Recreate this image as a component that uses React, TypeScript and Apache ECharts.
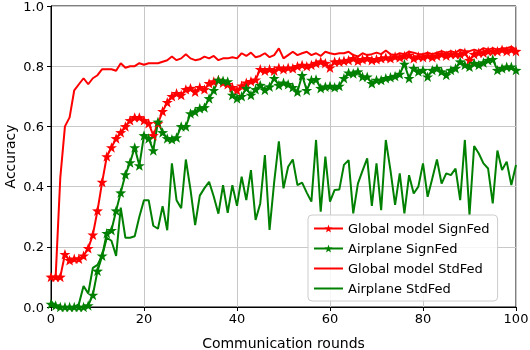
import React, { useEffect, useRef } from "react";
import * as echarts from "echarts";

const xTicks = [0, 20, 40, 60, 80, 100];
const yTicks = [0, 0.2, 0.4, 0.6, 0.8, 1.0];

const globalSignFed = [
  0.10, 0.10, 0.10, 0.175, 0.155, 0.16, 0.16, 0.17, 0.195, 0.24,
  0.32, 0.415, 0.50, 0.53, 0.56, 0.58, 0.60, 0.62, 0.63, 0.63,
  0.62, 0.61, 0.57, 0.61, 0.65, 0.68, 0.70, 0.71, 0.704, 0.723,
  0.727, 0.715, 0.73, 0.723, 0.743, 0.749, 0.754, 0.745, 0.74, 0.73,
  0.72, 0.735, 0.745, 0.75, 0.755, 0.79, 0.785, 0.79, 0.785, 0.795,
  0.79, 0.795, 0.793, 0.80, 0.804, 0.80, 0.804, 0.81, 0.815, 0.81,
  0.795, 0.815, 0.815, 0.818, 0.82, 0.826, 0.818, 0.823, 0.826, 0.82,
  0.823, 0.826, 0.829, 0.826, 0.832, 0.829, 0.834, 0.837, 0.826, 0.832,
  0.83, 0.835, 0.83, 0.835, 0.84, 0.835, 0.84, 0.84, 0.84, 0.845,
  0.82, 0.84, 0.845, 0.845, 0.85, 0.85, 0.85, 0.855, 0.85, 0.855,
  0.85,
];

const airplaneSignFed = [
  0.01, 0.005, 0.0, 0.0, 0.0, 0.0, 0.0, 0.0, 0.005, 0.04,
  0.12, 0.17, 0.245, 0.255, 0.32, 0.38, 0.44, 0.48, 0.53, 0.47,
  0.57, 0.56, 0.52, 0.615, 0.58, 0.56, 0.557, 0.563, 0.60, 0.60,
  0.643, 0.649, 0.66, 0.663, 0.693, 0.72, 0.754, 0.752, 0.749, 0.704,
  0.693, 0.70, 0.727, 0.704, 0.723, 0.737, 0.721, 0.732, 0.76, 0.737,
  0.745, 0.74, 0.73, 0.715, 0.77, 0.72, 0.754, 0.756, 0.727, 0.732,
  0.734, 0.73, 0.734, 0.76, 0.778, 0.776, 0.782, 0.765, 0.765, 0.743,
  0.754, 0.754, 0.76, 0.763, 0.767, 0.774, 0.807, 0.76, 0.793, 0.782,
  0.787, 0.765, 0.787, 0.793, 0.782, 0.771, 0.787, 0.793, 0.815, 0.804,
  0.798, 0.81, 0.804, 0.812, 0.82, 0.823, 0.787, 0.793, 0.798, 0.798,
  0.787,
];

const globalStdFed = [
  0.10, 0.10, 0.43, 0.60, 0.63, 0.72, 0.74, 0.76, 0.74, 0.76,
  0.77, 0.79, 0.79, 0.79, 0.785, 0.81, 0.795, 0.80, 0.80, 0.81,
  0.805, 0.81, 0.81, 0.81, 0.815, 0.82, 0.832, 0.82, 0.826, 0.84,
  0.826, 0.82, 0.823, 0.832, 0.826, 0.834, 0.82, 0.826, 0.826, 0.83,
  0.826, 0.843, 0.834, 0.845, 0.83, 0.834, 0.843, 0.83, 0.837, 0.859,
  0.826, 0.837, 0.848, 0.837, 0.843, 0.848, 0.837, 0.843, 0.834, 0.848,
  0.843, 0.84, 0.843, 0.843, 0.848, 0.837, 0.832, 0.843, 0.837, 0.84,
  0.845, 0.84, 0.852, 0.84, 0.837, 0.843, 0.84, 0.848, 0.845, 0.84,
  0.84, 0.845, 0.84, 0.845, 0.85, 0.845, 0.85, 0.845, 0.855, 0.85,
  0.85, 0.855, 0.85, 0.86, 0.855, 0.86, 0.855, 0.86, 0.86, 0.865,
  0.855,
];

const airplaneStdFed = [
  0.02, 0.0, 0.0, 0.0, 0.0, 0.0, 0.01, 0.07, 0.045, 0.13,
  0.14, 0.17, 0.23, 0.22, 0.17, 0.33, 0.23, 0.23, 0.235, 0.30,
  0.355, 0.355, 0.27, 0.26, 0.335, 0.255, 0.477, 0.355, 0.328, 0.49,
  0.39, 0.272, 0.37, 0.395, 0.416, 0.367, 0.31, 0.405, 0.313, 0.405,
  0.336, 0.433, 0.355, 0.455, 0.289, 0.344, 0.505, 0.256, 0.416, 0.55,
  0.394, 0.466, 0.49, 0.405, 0.413, 0.38, 0.35, 0.555, 0.317, 0.50,
  0.35, 0.389, 0.39, 0.472, 0.488, 0.311, 0.41, 0.453, 0.494, 0.336,
  0.477, 0.322, 0.555, 0.455, 0.339, 0.444, 0.311, 0.438, 0.377, 0.40,
  0.477, 0.366, 0.427, 0.49, 0.41, 0.444, 0.438, 0.46, 0.355, 0.555,
  0.306, 0.535, 0.51, 0.477, 0.46, 0.344, 0.52, 0.455, 0.483, 0.405,
  0.472,
];

const seriesNames = [
  "Global model SignFed",
  "Airplane SignFed",
  "Global model StdFed",
  "Airplane StdFed",
];

const RED = "#ff0000";
const GREEN = "#008000";
const STAR =
  "path://M0,-10L2.35,-3.24L9.51,-3.09L3.8,1.24L5.88,8.09L0,4L-5.88,8.09L-3.8,1.24L-9.51,-3.09L-2.35,-3.24Z";
const FONT = "DejaVu Sans";

const toPairs = (arr: number[]) => arr.map((v, i) => [i, v]);

export default function App() {
  const ref = useRef<HTMLDivElement>(null);
  useEffect(() => {
    if (!ref.current) return;
    const chart = echarts.init(ref.current, undefined, { renderer: "svg" });
    const lineSeries = (
      name: string,
      data: number[],
      color: string,
      star: boolean
    ) => ({
      name,
      type: "line",
      data: toPairs(data),
      symbol: star ? STAR : "none",
      symbolSize: 11,
      symbolKeepAspect: true,
      showSymbol: star,
      lineStyle: { color, width: 2 },
      itemStyle: { color },
      emphasis: { disabled: true },
    });
    chart.setOption({
      animation: false,
      textStyle: { fontFamily: FONT },
      grid: {
        left: 51,
        right: 14,
        top: 6,
        bottom: 43,
        outerBoundsMode: "none",
        containLabel: false,
        show: true,
        borderColor: "#000",
        borderWidth: 1,
        backgroundColor: "transparent",
      },
      xAxis: {
        type: "value",
        min: xTicks[0],
        max: xTicks[xTicks.length - 1],
        interval: 20,
        name: "Communication rounds",
        nameLocation: "middle",
        nameGap: 29,
        nameMoveOverlap: false,
        nameTextStyle: { fontSize: 14, color: "#000", fontFamily: FONT },
        axisLine: { show: true, lineStyle: { color: "#000", width: 1 } },
        axisTick: { show: true, length: 4, lineStyle: { color: "#000" } },
        axisLabel: { fontSize: 13, color: "#000", margin: 5, fontFamily: FONT },
        splitLine: { show: true, lineStyle: { color: "#c8c8c8", width: 1 } },
      },
      yAxis: {
        type: "value",
        min: yTicks[0],
        max: yTicks[yTicks.length - 1],
        interval: 0.2,
        name: "Accuracy",
        nameLocation: "middle",
        nameGap: 34,
        nameMoveOverlap: false,
        nameTextStyle: {
          fontSize: 14,
          lineHeight: 14,
          color: "#000",
          fontFamily: FONT,
        },
        axisLine: { show: true, lineStyle: { color: "#000", width: 1 } },
        axisTick: { show: true, length: 4, lineStyle: { color: "#000" } },
        axisLabel: {
          fontSize: 13,
          color: "#000",
          margin: 7,
          fontFamily: FONT,
          formatter: (v: number) => v.toFixed(1),
        },
        splitLine: { show: true, lineStyle: { color: "#c8c8c8", width: 1 } },
      },
      legend: {
        orient: "vertical",
        left: 308,
        top: 215,
        itemWidth: 29,
        itemHeight: 10,
        itemGap: 7,
        padding: [7, 8, 6, 5],
        backgroundColor: "rgba(255,255,255,0.85)",
        borderColor: "#cccccc",
        borderWidth: 1,
        borderRadius: 4,
        textStyle: { fontSize: 13, color: "#000", fontFamily: FONT },
        data: [
          { name: seriesNames[0] },
          { name: seriesNames[1] },
          { name: seriesNames[2], itemStyle: { opacity: 0 } },
          { name: seriesNames[3], itemStyle: { opacity: 0 } },
        ],
      },
      series: [
        lineSeries(seriesNames[0], globalSignFed, RED, true),
        lineSeries(seriesNames[1], airplaneSignFed, GREEN, true),
        lineSeries(seriesNames[2], globalStdFed, RED, false),
        lineSeries(seriesNames[3], airplaneStdFed, GREEN, false),
      ],
    });
    return () => chart.dispose();
  }, []);
  return (
    <div
      ref={ref}
      style={{ position: "fixed", left: 0, top: 0, width: 530, height: 350 }}
    />
  );
}
